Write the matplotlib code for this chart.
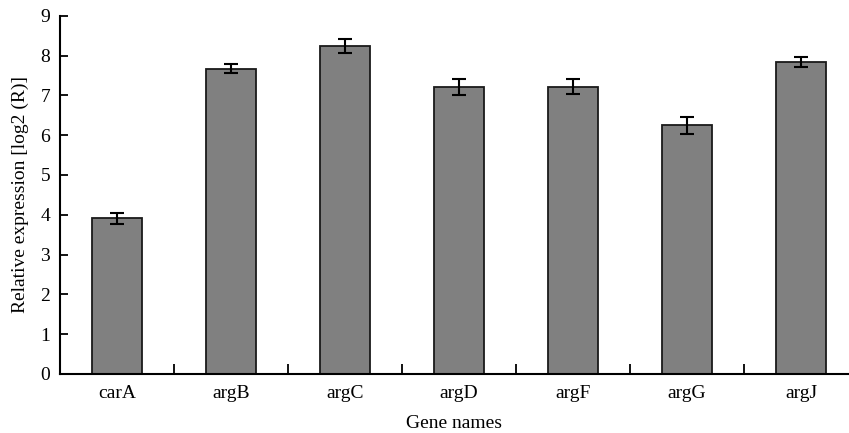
import matplotlib

matplotlib.use("Agg")
import matplotlib.pyplot as plt  # noqa: E402
from matplotlib.ticker import FixedLocator  # noqa: E402

plt.rcParams.update({
    "font.family": "Liberation Serif",
    "font.size": 14,
})

genes = ["carA", "argB", "argC", "argD", "argF", "argG", "argJ"]
expr = [3.91, 7.67, 8.24, 7.21, 7.22, 6.25, 7.84]
err = [0.14, 0.12, 0.18, 0.20, 0.19, 0.21, 0.13]

fig = plt.figure(figsize=(8.49, 4.33), dpi=100)
ax = fig.add_axes([60 / 849, 1 - 374 / 433, 789 / 849, (374 - 15.7) / 433])

x = range(len(genes))
ax.bar(x, expr, 0.43, color="#808080", edgecolor="#1a1a1a", linewidth=1.3,
       yerr=err, capsize=5, error_kw=dict(elinewidth=1.5, capthick=1.5, ecolor="black"))

ax.set_xlim(-0.5, -0.5 + 789 / 114)
ax.set_ylim(0, 9)
ax.set_yticks(range(10))
ax.set_xticks(list(x))
ax.set_xticklabels(genes)
ax.tick_params(axis="x", length=0, pad=8)
# category boundary ticks, pointing up
ax.xaxis.set_minor_locator(FixedLocator([i + 0.5 for i in x]))
ax.tick_params(axis="x", which="minor", direction="in", length=7, width=1.3)
ax.tick_params(axis="y", direction="in", length=6, width=1.3, pad=7)

for s in ("top", "right"):
    ax.spines[s].set_visible(False)
for s in ("left", "bottom"):
    ax.spines[s].set_linewidth(1.5)

ax.set_xlabel("Gene names", labelpad=9)
ax.set_ylabel("Relative expression [log2 (R)]", labelpad=8)

fig.savefig("out.png", dpi=100)
